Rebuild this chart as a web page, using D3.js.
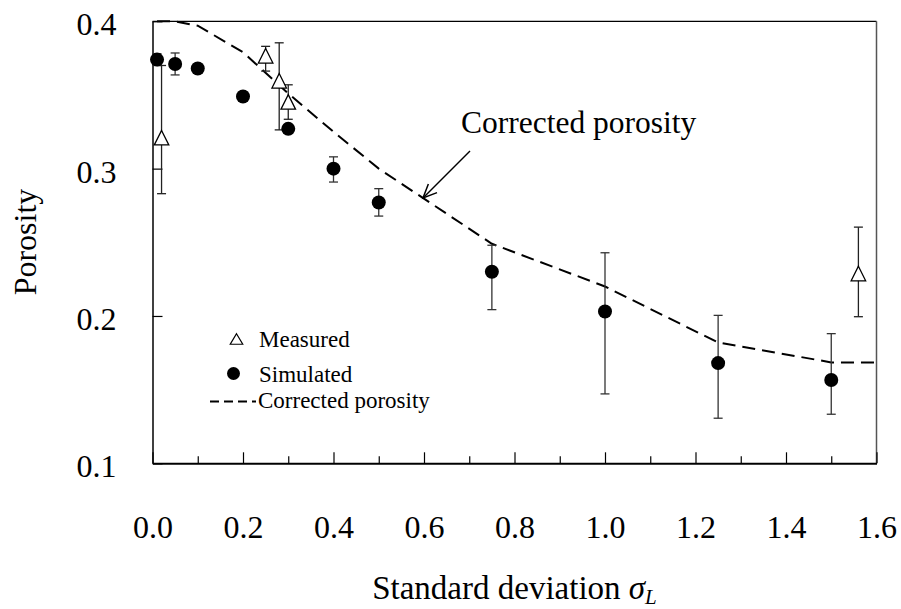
<!DOCTYPE html>
<html>
<head>
<meta charset="utf-8">
<script src="https://cdn.jsdelivr.net/npm/d3@7/dist/d3.min.js"></script>
<style>
  html, body { margin: 0; padding: 0; background: #fff; }
  svg { display: block; }
  text { font-family: "Liberation Serif", "Times New Roman", serif; fill: #000; }
</style>
</head>
<body>
<svg id="chart" width="901" height="609"></svg>
<script>
// Simulated porosity (mean with min / max of the runs)
const simSigma    = [0.01, 0.05, 0.10, 0.20, 0.30, 0.40, 0.50, 0.75, 1.00, 1.25, 1.50];
const simPorosity = [0.374, 0.371, 0.368, 0.349, 0.327, 0.300, 0.277, 0.230, 0.203, 0.168, 0.1565];
const simHigh     = [0.378, 0.3785, 0.371, 0.352, 0.330, 0.308, 0.2864, 0.248, 0.2429, 0.2004, 0.188];
const simLow      = [0.370, 0.3636, 0.365, 0.346, 0.324, 0.2909, 0.2678, 0.2043, 0.1471, 0.1306, 0.1333];

// Measured porosity
const measSigma    = [0.02, 0.25, 0.28, 0.30, 1.56];
const measPorosity = [0.321, 0.3766, 0.3596, 0.3453, 0.2288];
const measHigh     = [0.370, 0.383, 0.3854, 0.3569, 0.2603];
const measLow      = [0.283, 0.3662, 0.3263, 0.3335, 0.1995];

// Corrected porosity curve
const corrSigma    = [0.01, 0.05, 0.10, 0.20, 0.30, 0.40, 0.50, 0.75, 1.00, 1.25, 1.50, 1.60];
const corrPorosity = [0.400, 0.400, 0.397, 0.379, 0.351, 0.325, 0.300, 0.249, 0.220, 0.182, 0.1685, 0.1685];

// Axis ticks
const xMajorTicks = [0, 0.2, 0.4, 0.6, 0.8, 1.0, 1.2, 1.4, 1.6];
const xMinorTicks = [0.1, 0.3, 0.5, 0.7, 0.9, 1.1, 1.3, 1.5];
const yTicks = [0.1, 0.2, 0.3, 0.4];

const svg = d3.select("#chart");
const plotLeft = 152.5, plotRight = 876.5, plotTop = 21.3, plotBottom = 463.3;

const x = d3.scaleLinear().domain([0, 1.6]).range([plotLeft, plotRight]);
const y = d3.scaleLinear().domain([0.1, 0.4]).range([plotBottom, plotTop]);

// Frame: top and right edges
svg.append("line").attr("x1", plotLeft).attr("x2", plotRight).attr("y1", plotTop).attr("y2", plotTop)
  .attr("stroke", "#000").attr("stroke-width", 1.2);
svg.append("line").attr("x1", plotRight).attr("x2", plotRight).attr("y1", plotTop).attr("y2", plotBottom)
  .attr("stroke", "#555").attr("stroke-width", 1.5);

// Minor x ticks
svg.append("g").attr("transform", `translate(0,${plotBottom})`)
  .call(d3.axisBottom(x).tickValues(xMinorTicks).tickSize(-7).tickSizeOuter(0).tickFormat(""))
  .call(g => g.select(".domain").remove())
  .call(g => g.selectAll("line").attr("stroke", "#000").attr("stroke-width", 1.2));

// Major x axis
svg.append("g").attr("transform", `translate(0,${plotBottom})`)
  .call(d3.axisBottom(x).tickValues(xMajorTicks).tickSize(-11).tickSizeOuter(0)
    .tickPadding(52).tickFormat(d3.format(".1f")))
  .call(g => g.select(".domain").attr("stroke", "#000").attr("stroke-width", 2))
  .call(g => g.selectAll("line").attr("stroke", "#000").attr("stroke-width", 1.2))
  .call(g => g.selectAll("text").attr("font-size", 32)
    .style("font-family", '"Liberation Serif", serif'));

// y axis
svg.append("g").attr("transform", `translate(${plotLeft},0)`)
  .call(d3.axisLeft(y).tickValues(yTicks).tickSize(-10).tickSizeOuter(0)
    .tickPadding(36).tickFormat(d3.format(".1f")))
  .call(g => g.select(".domain").attr("stroke", "#000").attr("stroke-width", 1.5))
  .call(g => g.selectAll("line").attr("stroke", "#000").attr("stroke-width", 1.2))
  .call(g => g.selectAll("text").attr("font-size", 32).attr("dy", "0.42em")
    .style("font-family", '"Liberation Serif", serif'));

// Axis titles
svg.append("text").attr("x", (plotLeft + plotRight) / 2).attr("y", 599)
  .attr("text-anchor", "middle").attr("font-size", 33)
  .call(t => {
    t.append("tspan").text("Standard deviation ");
    t.append("tspan").attr("font-style", "italic").text("σ");
    t.append("tspan").attr("font-style", "italic").attr("font-size", 21).attr("dy", 5).text("L");
  });

svg.append("text").attr("transform", "translate(36,242) rotate(-90)")
  .attr("text-anchor", "middle").attr("font-size", 32).text("Porosity");

// Corrected porosity curve
const corrData = corrSigma.map((s, i) => [s, corrPorosity[i]]);
svg.append("path").datum(corrData)
  .attr("d", d3.line().x(d => x(d[0])).y(d => y(d[1])))
  .attr("fill", "none").attr("stroke", "#000").attr("stroke-width", 2)
  .attr("stroke-dasharray", "13,7");

// Error bars
function errorBars(sig, lo, hi, color) {
  const g = svg.append("g").attr("stroke", color).attr("stroke-width", 1.3).attr("fill", "none");
  sig.forEach((s, i) => {
    const cx = x(s);
    g.append("line").attr("x1", cx).attr("x2", cx).attr("y1", y(hi[i])).attr("y2", y(lo[i]));
    g.append("line").attr("x1", cx - 4.5).attr("x2", cx + 4.5).attr("y1", y(hi[i])).attr("y2", y(hi[i]));
    g.append("line").attr("x1", cx - 4.5).attr("x2", cx + 4.5).attr("y1", y(lo[i])).attr("y2", y(lo[i]));
  });
}
errorBars(simSigma, simLow, simHigh, "#333");
errorBars(measSigma, measLow, measHigh, "#222");

// Triangle marker, centred on its bounding box
function triPath(w, h) {
  const p = d3.path();
  p.moveTo(0, -h / 2); p.lineTo(w / 2, h / 2); p.lineTo(-w / 2, h / 2); p.closePath();
  return p.toString();
}

// Simulated points
svg.append("g").selectAll("circle").data(simSigma).join("circle")
  .attr("cx", d => x(d)).attr("cy", (d, i) => y(simPorosity[i])).attr("r", 7)
  .attr("fill", "#000");

// Measured points
svg.append("g").selectAll("path").data(measSigma).join("path")
  .attr("transform", (d, i) => `translate(${x(d)},${y(measPorosity[i])})`)
  .attr("d", triPath(14.5, 14.5))
  .attr("fill", "#fff").attr("stroke", "#000").attr("stroke-width", 1.3);

// Legend
const lg = svg.append("g");
lg.append("path").attr("transform", "translate(236.5,339)").attr("d", triPath(12.5, 10.5))
  .attr("fill", "#fff").attr("stroke", "#000").attr("stroke-width", 1.2);
lg.append("text").attr("x", 259).attr("y", 347).attr("font-size", 23).text("Measured");
lg.append("circle").attr("cx", 233.5).attr("cy", 373.5).attr("r", 6.5).attr("fill", "#000");
lg.append("text").attr("x", 259).attr("y", 382).attr("font-size", 23).text("Simulated");
lg.append("line").attr("x1", 210).attr("x2", 256).attr("y1", 401.5).attr("y2", 401.5)
  .attr("stroke", "#000").attr("stroke-width", 2).attr("stroke-dasharray", "9,5");
lg.append("text").attr("x", 258).attr("y", 408).attr("font-size", 23).text("Corrected porosity");

// Annotation with arrow
svg.append("text").attr("x", 461).attr("y", 133).attr("font-size", 31.5).text("Corrected porosity");
const tipX = 423, tipY = 198, tailX = 470, tailY = 151;
svg.append("line").attr("x1", tailX).attr("y1", tailY).attr("x2", tipX).attr("y2", tipY)
  .attr("stroke", "#000").attr("stroke-width", 1.5);
const ang = Math.atan2(tailY - tipY, tailX - tipX);
const headLen = 15, spread = 0.42;
const head = d3.path();
head.moveTo(tipX + headLen * Math.cos(ang + spread), tipY + headLen * Math.sin(ang + spread));
head.lineTo(tipX, tipY);
head.lineTo(tipX + headLen * Math.cos(ang - spread), tipY + headLen * Math.sin(ang - spread));
svg.append("path").attr("d", head.toString()).attr("fill", "none")
  .attr("stroke", "#000").attr("stroke-width", 1.5);
</script>
</body>
</html>
